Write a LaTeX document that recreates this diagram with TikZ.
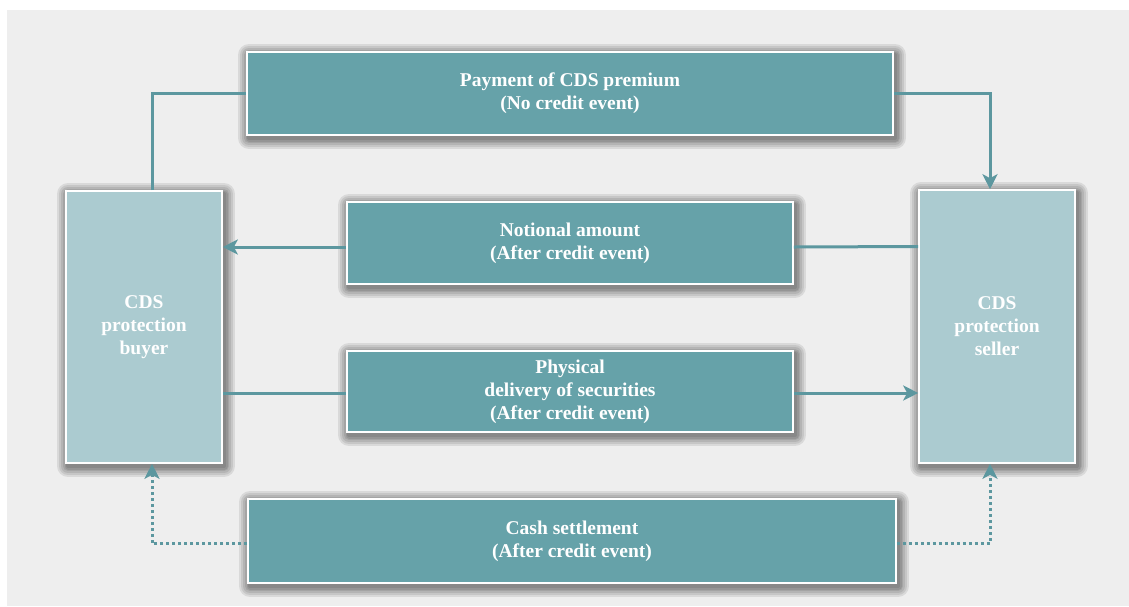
\documentclass[tikz,border=0pt]{standalone}
\usepackage{fontspec}
\setmainfont{Liberation Serif}
\usetikzlibrary{arrows.meta,calc}
\definecolor{bgray}{HTML}{EEEEEE}
\definecolor{darkbox}{HTML}{66A2A9}
\definecolor{lightbox}{HTML}{ABCBD0}
\definecolor{linec}{HTML}{5C979F}
\tikzset{
  shadowring/.style={preaction={draw=black, line width=#1, draw opacity=0.085, line join=round,
     transform canvas={shift={(2pt,-3pt)}}}},
  boxbase/.style={rectangle, draw=white, line width=1.6pt, inner sep=0pt, align=center,
    text=white, font=\fontsize{19.5}{23}\selectfont\bfseries,
    shadowring=22pt, shadowring=18pt, shadowring=14pt, shadowring=10pt, shadowring=7pt, shadowring=4pt},
  darkbox/.style={boxbase, fill=darkbox},
  lightbox/.style={boxbase, fill=lightbox},
  conn/.style={draw=linec, line width=3pt},
  arr/.style={-{Stealth[length=15pt,width=15pt,inset=4pt]}},
  dotconn/.style={draw=linec, line width=3pt, dash pattern=on 3pt off 3pt}
}
\begin{document}
\begin{tikzpicture}[x=1pt,y=-1pt]
\useasboundingbox (0,0) rectangle (1129,606);
\fill[white] (0,0) rectangle (1129,606);
\fill[bgray] (7,10) rectangle (1129,606);

\node[darkbox, minimum width=646pt, minimum height=83pt] (pay) at (570,93.5) {Payment of CDS premium\\(No credit event)};
\node[lightbox, minimum width=156pt, minimum height=272pt] (buyer) at (144,327) {CDS\\protection\\buyer};
\node[lightbox, minimum width=156pt, minimum height=273pt] (seller) at (997,326.5) {CDS\\protection\\seller};
\node[darkbox, minimum width=446pt, minimum height=82pt] (notional) at (570,243) {Notional amount\\(After credit event)};
\node[darkbox, minimum width=446pt, minimum height=81pt] (phys) at (570,391.5) {Physical\\delivery of securities\\(After credit event)};
\node[darkbox, minimum width=648pt, minimum height=84pt] (cash) at (572,541) {Cash settlement\\(After credit event)};

\draw[conn] ($(buyer.north)+(8,0)$) |- (pay.west);
\draw[conn, arr] (pay.east) -| ($(seller.north)+(-7,0)$);
\draw[conn] ($(seller.west)+(0,-80)$) -- ($(notional.east)+(0,4)$);
\draw[conn, arr] ($(notional.west)+(0,4)$) -- ($(buyer.east)+(0,-80)$);
\draw[conn] ($(buyer.east)+(0,66)$) -- ($(phys.west)+(0,1.5)$);
\draw[conn, arr] ($(phys.east)+(0,1.5)$) -- ($(seller.west)+(0,66.5)$);
\draw[dotconn, arr] ($(cash.west)+(0,2.5)$) -| ($(buyer.south)+(8,0)$);
\draw[dotconn, arr] ($(cash.east)+(0,2.5)$) -| ($(seller.south)+(-7,0)$);
\end{tikzpicture}
\end{document}
